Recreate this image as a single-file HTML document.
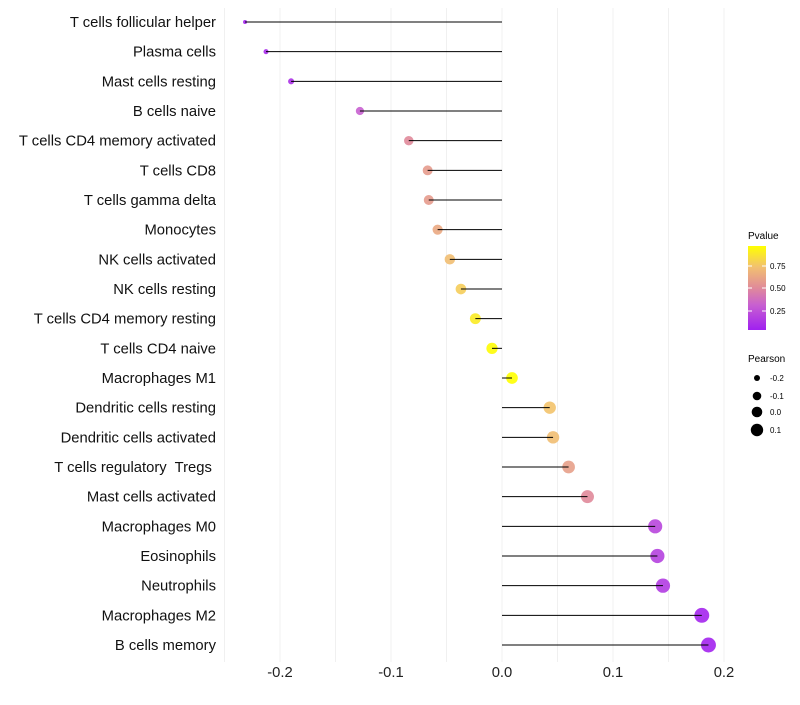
<!DOCTYPE html>
<html><head><meta charset="utf-8"><style>
body{margin:0;background:#fff;font-family:"Liberation Sans",sans-serif}
text{white-space:pre}
</style></head><body>
<svg id="chart" width="800" height="700" xmlns="http://www.w3.org/2000/svg" font-family="Liberation Sans, sans-serif">
<defs><linearGradient id="pg" x1="0" y1="1" x2="0" y2="0">
<stop offset="0" stop-color="#a020f0"/><stop offset="0.3" stop-color="#c860d0"/><stop offset="0.5" stop-color="#e08a9a"/><stop offset="0.75" stop-color="#f2c070"/><stop offset="1" stop-color="#ffff00"/></linearGradient></defs>
<g id="grid"></g>
<g id="pts"></g>
<g id="marks"></g>
<g id="ylab"></g>
<g id="xlab"></g>
<g>
<text x="748" y="239" font-size="10" fill="#000">Pvalue</text>
<rect x="748" y="246" width="18" height="84" fill="url(#pg)"/>
<line x1="748" y1="266" x2="752" y2="266" stroke="#fff"/><line x1="762" y1="266" x2="766" y2="266" stroke="#fff"/>
<line x1="748" y1="288" x2="752" y2="288" stroke="#fff"/><line x1="762" y1="288" x2="766" y2="288" stroke="#fff"/>
<line x1="748" y1="311" x2="752" y2="311" stroke="#fff"/><line x1="762" y1="311" x2="766" y2="311" stroke="#fff"/>
<text x="770" y="269" font-size="8">0.75</text><text x="770" y="291" font-size="8">0.50</text><text x="770" y="314" font-size="8">0.25</text>
</g>
<g>
<text x="748" y="362" font-size="10">Pearson</text>
<circle cx="757" cy="378" r="3" fill="#000"/><text x="770" y="381" font-size="8">-0.2</text>
<circle cx="757" cy="396" r="4.3" fill="#000"/><text x="770" y="399" font-size="8">-0.1</text>
<circle cx="757" cy="412" r="5.3" fill="#000"/><text x="770" y="415" font-size="8">0.0</text>
<circle cx="757" cy="430" r="6.2" fill="#000"/><text x="770" y="433" font-size="8">0.1</text>
</g>
</svg>
<script>
const categories=["T cells follicular helper","Plasma cells","Mast cells resting","B cells naive","T cells CD4 memory activated","T cells CD8","T cells gamma delta","Monocytes","NK cells activated","NK cells resting","T cells CD4 memory resting","T cells CD4 naive","Macrophages M1","Dendritic cells resting","Dendritic cells activated","T cells regulatory  Tregs ","Mast cells activated","Macrophages M0","Eosinophils","Neutrophils","Macrophages M2","B cells memory"];
const pearson=[-0.2315,-0.2126,-0.190,-0.128,-0.084,-0.067,-0.066,-0.058,-0.047,-0.037,-0.024,-0.009,0.009,0.043,0.046,0.060,0.077,0.138,0.140,0.145,0.180,0.186];
const pvalue=[0.02,0.05,0.08,0.3,0.5,0.58,0.58,0.64,0.74,0.8,0.92,0.99,1.0,0.76,0.74,0.6,0.5,0.18,0.16,0.13,0.03,0.02];
const xTicks=[-0.2,-0.1,0.0,0.1,0.2];
const xTickLabels=["-0.2","-0.1","0.0","0.1","0.2"];
const NS="http://www.w3.org/2000/svg";
const xs=v=>502+v*1110;
const ys=i=>22+i*29.667;
const stops=[[0,[160,32,240]],[0.3,[200,96,208]],[0.5,[224,138,154]],[0.75,[242,192,112]],[1,[255,255,0]]];
function col(p){for(let k=1;k<stops.length;k++){if(p<=stops[k][0]){const [p0,a]=stops[k-1],[p1,b]=stops[k];const t=(p-p0)/(p1-p0);return "rgb("+a.map((v,j)=>Math.round(v+(b[j]-v)*t)).join(",")+")";}}return "rgb(255,255,0)";}
function rad(v){const mn=Math.min(...pearson),mx=Math.max(...pearson);const t=(v-mn)/(mx-mn);return Math.sqrt(4+t*(56-4));}
function mk(tag,at,par){const e=document.createElementNS(NS,tag);for(const k in at)e.setAttribute(k,at[k]);document.getElementById(par).appendChild(e);return e;}
for(let v=-0.25;v<=0.2001;v+=0.05){const l=mk("line",{x1:xs(v),x2:xs(v),y1:8,y2:662,stroke:"#f0f0f0","stroke-width":1},"grid");

}
xTicks.forEach((v,i)=>{const t=mk("text",{x:xs(v),y:677,"font-size":14.8,"text-anchor":"middle",fill:"#222"},"xlab");t.textContent=xTickLabels[i];

});
categories.forEach((c,i)=>{const y=ys(i);
const t=mk("text",{x:216,y:y+5,"font-size":14.8,"text-anchor":"end",fill:"#111"},"ylab");t.textContent=c;


const p=mk("circle",{cx:xs(pearson[i]),cy:y,r:rad(pearson[i]),fill:col(pvalue[i]),"fill-opacity":0.9},"pts");


const l=mk("line",{x1:xs(0),x2:xs(pearson[i]),y1:y,y2:y,stroke:"#000","stroke-width":1},"marks");

});
</script>
</body></html>
